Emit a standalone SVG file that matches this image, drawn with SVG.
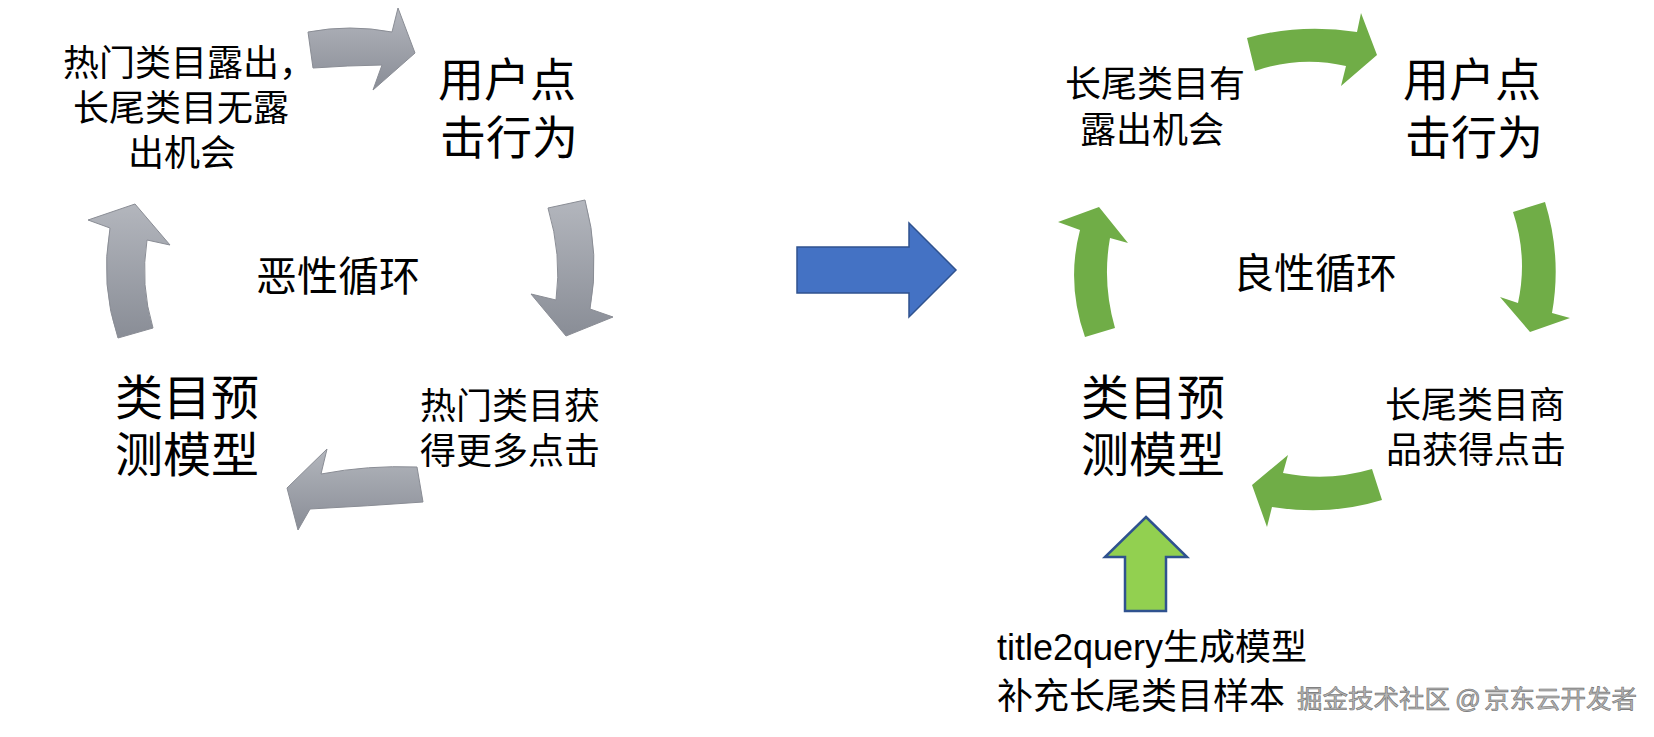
<svg xmlns="http://www.w3.org/2000/svg" width="1654" height="737" viewBox="0 0 1654 737">
<style>
text{font-family:"Liberation Sans","Noto Sans CJK SC",sans-serif;fill:#000}
.s36{font-size:36px}
.s41{font-size:41px}
.s46{font-size:46px}
.s48{font-size:48px}
.gray{fill:url(#g);stroke:#8a8d95;stroke-width:1}
.green{fill:#70AD47}
.wm{font-size:25.5px;fill:#b4b4b4;stroke:#6e6e6e;stroke-width:0.6}
</style>
<defs>
<linearGradient id="g" x1="0" y1="0" x2="0" y2="1">
<stop offset="0" stop-color="#b3b6bd"/>
<stop offset="1" stop-color="#898d96"/>
</linearGradient>
</defs>
<rect width="1654" height="737" fill="#fff"/>
<g id="connectors">
<path class="gray" d="M308,32 Q350,24 392,32 L398,8 L415,53 L373,90 L382,65 Q348,65.5 313,68 Z"/>
<path class="gray" d="M548,208 L585,200 Q600,255 590,309 L613,317 L566,336 L531,294 L556,300 Q562,255 548,208 Z"/>
<path class="gray" d="M417,467 Q368,465 321,474 L327,449 L287,488 L298,530 L310,509 Q368,506 423,502 Z"/>
<path class="gray" d="M110,228 L88,220 L135,204 L170,245 L147,240 Q140,285 153,328 L118,338 Q100,285 110,228 Z"/>
<path d="M797,247 L909,247 L909,223 L956,270 L909,317 L909,293 L797,293 Z" fill="#4472C4" stroke="#2F528F" stroke-width="1.5"/>
<path class="green" d="M1247,38 Q1300,23 1357,32 L1361,13 L1377,55 L1341,86 L1346,66 Q1300,55.5 1255,71 Z"/>
<path class="green" d="M1513,212 L1545,202 Q1562,257 1552,313 L1570,318 L1530,332 L1500,297 L1518,303 Q1528,257 1513,212 Z"/>
<path class="green" d="M1372,469 Q1328,482 1283,473 L1288,455 L1252,485 L1267,527 L1272,507 Q1330,516 1382,500 Z"/>
<path class="green" d="M1080,230 L1058,222 L1099,207 L1128,243 L1110,238 Q1102,283 1115,328 L1085,337 Q1066,283 1080,230 Z"/>
<path d="M1146,517 L1187,557 L1166,557 L1166,611 L1125,611 L1125,557 L1105,557 Z" fill="#92D050" stroke="#2F528F" stroke-width="2.5"/>
</g>
<g id="left-exposure"><text class="s36" x="63" y="76">热门类目露出，</text><text class="s36" x="73" y="121">长尾类目无露</text><text class="s36" x="128" y="166">出机会</text></g>
<g id="left-click"><text class="s46" x="438" y="96">用户点</text><text class="s46" x="440" y="154">击行为</text></g>
<g id="left-center"><text class="s41" x="256" y="291">恶性循环</text></g>
<g id="left-model"><text class="s48" x="115" y="415">类目预</text><text class="s48" x="115" y="472">测模型</text></g>
<g id="left-more"><text class="s36" x="420" y="419">热门类目获</text><text class="s36" x="420" y="464">得更多点击</text></g>
<g id="right-exposure"><text class="s36" x="1065" y="97">长尾类目有</text><text class="s36" x="1080" y="143">露出机会</text></g>
<g id="right-click"><text class="s46" x="1403" y="96">用户点</text><text class="s46" x="1405" y="154">击行为</text></g>
<g id="right-center"><text class="s41" x="1233" y="288">良性循环</text></g>
<g id="right-model"><text class="s48" x="1081" y="415">类目预</text><text class="s48" x="1081" y="472">测模型</text></g>
<g id="right-clicks"><text class="s36" x="1385" y="418">长尾类目商</text><text class="s36" x="1386" y="463">品获得点击</text></g>
<g id="title2query"><text class="s36" x="997" y="660">title2query生成模型</text><text class="s36" x="997" y="709">补充长尾类目样本</text></g>
<g id="watermark"><text class="wm" x="1297" y="708">掘金技术社区 <tspan x="1455">@</tspan> <tspan x="1484">京东云开发者</tspan></text></g>
</svg>
